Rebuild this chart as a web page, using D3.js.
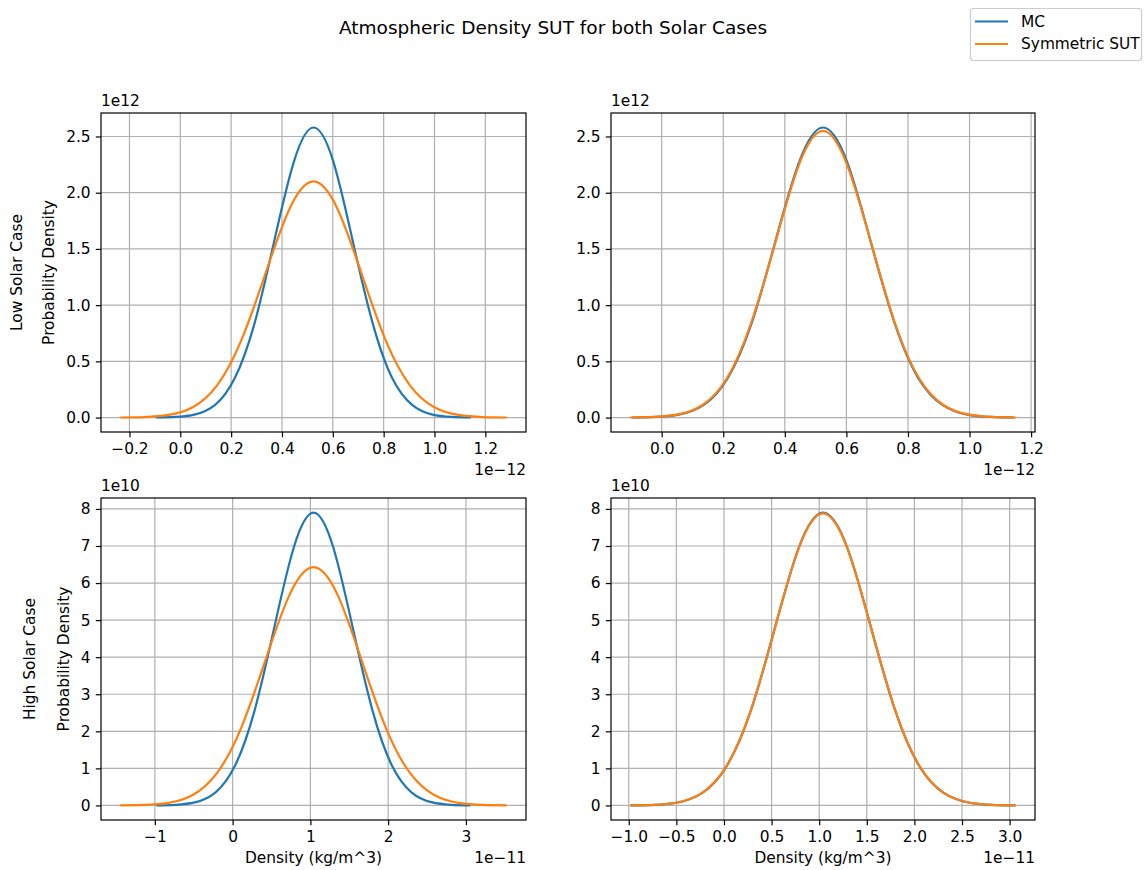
<!DOCTYPE html>
<html>
<head>
<meta charset="utf-8">
<script src="https://cdn.jsdelivr.net/npm/d3@7"></script>
<style>
    body { margin: 0; background: #fff; }
    text { font-family: "DejaVu Sans", sans-serif; fill: #000; }
</style>
</head>
<body>
<div id="chart"></div>
<script>
// Values (x in panel offset units, y in panel offset units)

// Low solar case, MC (same in both top panels)
var lowMcX = [-0.096, -0.019, 0.059, 0.137, 0.214, 0.292, 0.369, 0.447, 0.524, 0.602, 0.679, 0.757, 0.834, 0.912, 0.989, 1.067, 1.144]
var lowMcY = [0.0009, 0.0057, 0.0287, 0.1134, 0.3492, 0.8376, 1.5648, 2.2769, 2.58, 2.2769, 1.5648, 0.8376, 0.3492, 0.1134, 0.0287, 0.0057, 0.0009]

// Low solar case, Symmetric SUT (left panel)
var lowSutLeftX = [-0.236, -0.141, -0.046, 0.049, 0.144, 0.239, 0.334, 0.429, 0.524, 0.619, 0.714, 0.809, 0.904, 0.999, 1.094, 1.189, 1.284]
var lowSutLeftY = [0.0007, 0.0046, 0.0233, 0.0923, 0.2842, 0.6818, 1.2737, 1.8533, 2.10, 1.8533, 1.2737, 0.6818, 0.2842, 0.0923, 0.0233, 0.0046, 0.0007]

// Low solar case, Symmetric SUT (right panel)
var lowSutRightX = [-0.102, -0.024, 0.054, 0.133, 0.211, 0.289, 0.368, 0.446, 0.524, 0.602, 0.681, 0.759, 0.837, 0.915, 0.994, 1.072, 1.150]
var lowSutRightY = [0.0009, 0.0056, 0.0283, 0.1120, 0.3451, 0.8279, 1.5467, 2.2504, 2.55, 2.2504, 1.5467, 0.8279, 0.3451, 0.1120, 0.0283, 0.0056, 0.0009]

// High solar case, MC (same in both bottom panels)
var highMcX = [-0.98, -0.728, -0.475, -0.223, 0.03, 0.283, 0.535, 0.788, 1.04, 1.293, 1.545, 1.798, 2.05, 2.303, 2.555, 2.808, 3.06]
var highMcY = [0.0027, 0.0173, 0.0878, 0.3471, 1.0692, 2.5647, 4.7916, 6.9718, 7.9, 6.9718, 4.7916, 2.5647, 1.0692, 0.3471, 0.0878, 0.0173, 0.0027]

// High solar case, Symmetric SUT (left panel)
var highSutLeftX = [-1.444, -1.134, -0.823, -0.513, -0.202, 0.109, 0.419, 0.730, 1.04, 1.351, 1.661, 1.972, 2.282, 2.593, 2.903, 3.214, 3.524]
var highSutLeftY = [0.0022, 0.0141, 0.0714, 0.2825, 0.8702, 2.0875, 3.90, 5.6745, 6.43, 5.6745, 3.90, 2.0875, 0.8702, 0.2825, 0.0714, 0.0141, 0.0022]

// High solar case, Symmetric SUT (right panel)
var highSutRightX = [-0.984, -0.731, -0.478, -0.225, 0.028, 0.281, 0.534, 0.787, 1.04, 1.293, 1.546, 1.799, 2.052, 2.305, 2.558, 2.811, 3.064]
var highSutRightY = [0.0026, 0.0173, 0.0875, 0.3463, 1.0665, 2.5582, 4.7795, 6.9541, 7.88, 6.9541, 4.7795, 2.5582, 1.0665, 0.3463, 0.0875, 0.0173, 0.0026]

// Tick values
var lowLeftXTicks = [-0.2, 0.0, 0.2, 0.4, 0.6, 0.8, 1.0, 1.2]
var lowRightXTicks = [0.0, 0.2, 0.4, 0.6, 0.8, 1.0, 1.2]
var lowYTicks = [0.0, 0.5, 1.0, 1.5, 2.0, 2.5]
var highLeftXTicks = [-1, 0, 1, 2, 3]
var highRightXTicks = [-1.0, -0.5, 0.0, 0.5, 1.0, 1.5, 2.0, 2.5, 3.0]
var highYTicks = [0, 1, 2, 3, 4, 5, 6, 7, 8]

var seriesNames = ['MC', 'Symmetric SUT']
var colors = ['#1f77b4', '#ff7f0e']

var width = 1144
var height = 870
var fontSize = 15.4
var tickLen = 5.2

var svg = d3.select('#chart').append('svg')
    .attr('width', width)
    .attr('height', height)

var zip = function(xs, ys) {
    return xs.map(function(x, i) { return [x, ys[i]] })
}

var panels = [
    {left: 101, right: 526, top: 113, bottom: 432,
     series: [zip(lowMcX, lowMcY), zip(lowSutLeftX, lowSutLeftY)],
     xTicks: lowLeftXTicks, yTicks: lowYTicks, xFmt: '.1f', yFmt: '.1f',
     xOffset: '1e\u221212', yOffset: '1e12',
     yLabel: ['Low Solar Case', 'Probability Density'], yLabelX: [17, 49], xLabel: null},
    {left: 611, right: 1035, top: 113, bottom: 432,
     series: [zip(lowMcX, lowMcY), zip(lowSutRightX, lowSutRightY)],
     xTicks: lowRightXTicks, yTicks: lowYTicks, xFmt: '.1f', yFmt: '.1f',
     xOffset: '1e\u221212', yOffset: '1e12', yLabel: null, xLabel: null},
    {left: 101, right: 526, top: 498, bottom: 820,
     series: [zip(highMcX, highMcY), zip(highSutLeftX, highSutLeftY)],
     xTicks: highLeftXTicks, yTicks: highYTicks, xFmt: 'd', yFmt: 'd',
     xOffset: '1e\u221211', yOffset: '1e10',
     yLabel: ['High Solar Case', 'Probability Density'], yLabelX: [30, 64], xLabel: 'Density (kg/m^3)'},
    {left: 611, right: 1035, top: 498, bottom: 820,
     series: [zip(highMcX, highMcY), zip(highSutRightX, highSutRightY)],
     xTicks: highRightXTicks, yTicks: highYTicks, xFmt: '.1f', yFmt: 'd',
     xOffset: '1e\u221211', yOffset: '1e10', yLabel: null, xLabel: 'Density (kg/m^3)'}
]

// matplotlib style 5% margins around the data
var paddedExtent = function(values) {
    var ext = d3.extent(values)
    var pad = (ext[1] - ext[0]) * 0.05
    return [ext[0] - pad, ext[1] + pad]
}

panels.forEach(function(p) {
    var allPts = d3.merge(p.series)
    var x = d3.scaleLinear()
        .domain(paddedExtent(allPts.map(function(d) { return d[0] })))
        .range([p.left, p.right])
    var y = d3.scaleLinear()
        .domain(paddedExtent(allPts.map(function(d) { return d[1] })))
        .range([p.bottom, p.top])

    var g = svg.append('g')

    // grid
    g.selectAll('.vgrid')
        .data(p.xTicks)
        .enter().append('line')
        .attr('x1', function(d) { return x(d) })
        .attr('x2', function(d) { return x(d) })
        .attr('y1', p.top)
        .attr('y2', p.bottom)
        .attr('stroke', '#b0b0b0')
        .attr('stroke-width', 1.2)
    g.selectAll('.hgrid')
        .data(p.yTicks)
        .enter().append('line')
        .attr('x1', p.left)
        .attr('x2', p.right)
        .attr('y1', function(d) { return y(d) })
        .attr('y2', function(d) { return y(d) })
        .attr('stroke', '#b0b0b0')
        .attr('stroke-width', 1.2)

    // curves
    var line = d3.line()
        .x(function(d) { return x(d[0]) })
        .y(function(d) { return y(d[1]) })
        .curve(d3.curveNatural)
    p.series.forEach(function(s, i) {
        g.append('path')
            .datum(s)
            .attr('d', line)
            .attr('fill', 'none')
            .attr('stroke', colors[i])
            .attr('stroke-width', 2.2)
            .attr('stroke-linejoin', 'round')
    })

    // axes
    var xAxis = d3.axisBottom(x)
        .tickValues(p.xTicks)
        .tickFormat(d3.format(p.xFmt))
        .tickSize(tickLen)
        .tickPadding(tickLen)
    var yAxis = d3.axisLeft(y)
        .tickValues(p.yTicks)
        .tickFormat(d3.format(p.yFmt))
        .tickSize(tickLen)
        .tickPadding(tickLen)

    var gx = g.append('g')
        .attr('transform', 'translate(0,' + p.bottom + ')')
        .call(xAxis)
    var gy = g.append('g')
        .attr('transform', 'translate(' + p.left + ',0)')
        .call(yAxis)
    ;[gx, gy].forEach(function(a) {
        a.select('.domain').remove()
        a.selectAll('.tick line').attr('stroke', '#000').attr('stroke-width', 1.2)
        a.selectAll('.tick text')
            .attr('font-size', fontSize)
            .attr('font-family', 'DejaVu Sans')
            .attr('fill', '#000')
    })
    gx.selectAll('.tick text').attr('dy', '0.74em')

    // frame
    g.append('rect')
        .attr('x', p.left)
        .attr('y', p.top)
        .attr('width', p.right - p.left)
        .attr('height', p.bottom - p.top)
        .attr('fill', 'none')
        .attr('stroke', '#000')
        .attr('stroke-width', 1.2)

    // offset texts
    g.append('text')
        .attr('x', p.left)
        .attr('y', p.top - 7)
        .attr('font-size', fontSize)
        .text(p.yOffset)
    g.append('text')
        .attr('x', p.right)
        .attr('y', p.bottom + 43)
        .attr('text-anchor', 'end')
        .attr('font-size', fontSize)
        .text(p.xOffset)

    if (p.xLabel) {
        g.append('text')
            .attr('x', (p.left + p.right) / 2)
            .attr('y', p.bottom + 43)
            .attr('text-anchor', 'middle')
            .attr('font-size', fontSize)
            .text(p.xLabel)
    }
    if (p.yLabel) {
        p.yLabel.forEach(function(t, i) {
            g.append('text')
                .attr('transform', 'translate(' + p.yLabelX[i] + ',' + ((p.top + p.bottom) / 2) + ') rotate(-90)')
                .attr('text-anchor', 'middle')
                .attr('dy', '0.35em')
                .attr('font-size', fontSize)
                .text(t)
        })
    }
})

// title
svg.append('text')
    .attr('x', 553)
    .attr('y', 34)
    .attr('text-anchor', 'middle')
    .attr('font-size', 18.5)
    .text('Atmospheric Density SUT for both Solar Cases')

// legend
var legend = svg.append('g')
legend.append('rect')
    .attr('x', 970.5)
    .attr('y', 8.5)
    .attr('width', 171)
    .attr('height', 52)
    .attr('rx', 3)
    .attr('fill', '#fff')
    .attr('fill-opacity', 0.8)
    .attr('stroke', '#cccccc')
    .attr('stroke-width', 1.2)
seriesNames.forEach(function(name, i) {
    var ly = 21.5 + i * 22.5
    legend.append('line')
        .attr('x1', 975)
        .attr('x2', 1008)
        .attr('y1', ly)
        .attr('y2', ly)
        .attr('stroke', colors[i])
        .attr('stroke-width', 2.2)
    legend.append('text')
        .attr('x', 1021)
        .attr('y', ly)
        .attr('dy', '0.35em')
        .attr('font-size', fontSize)
        .text(name)
})
</script>
</body>
</html>
